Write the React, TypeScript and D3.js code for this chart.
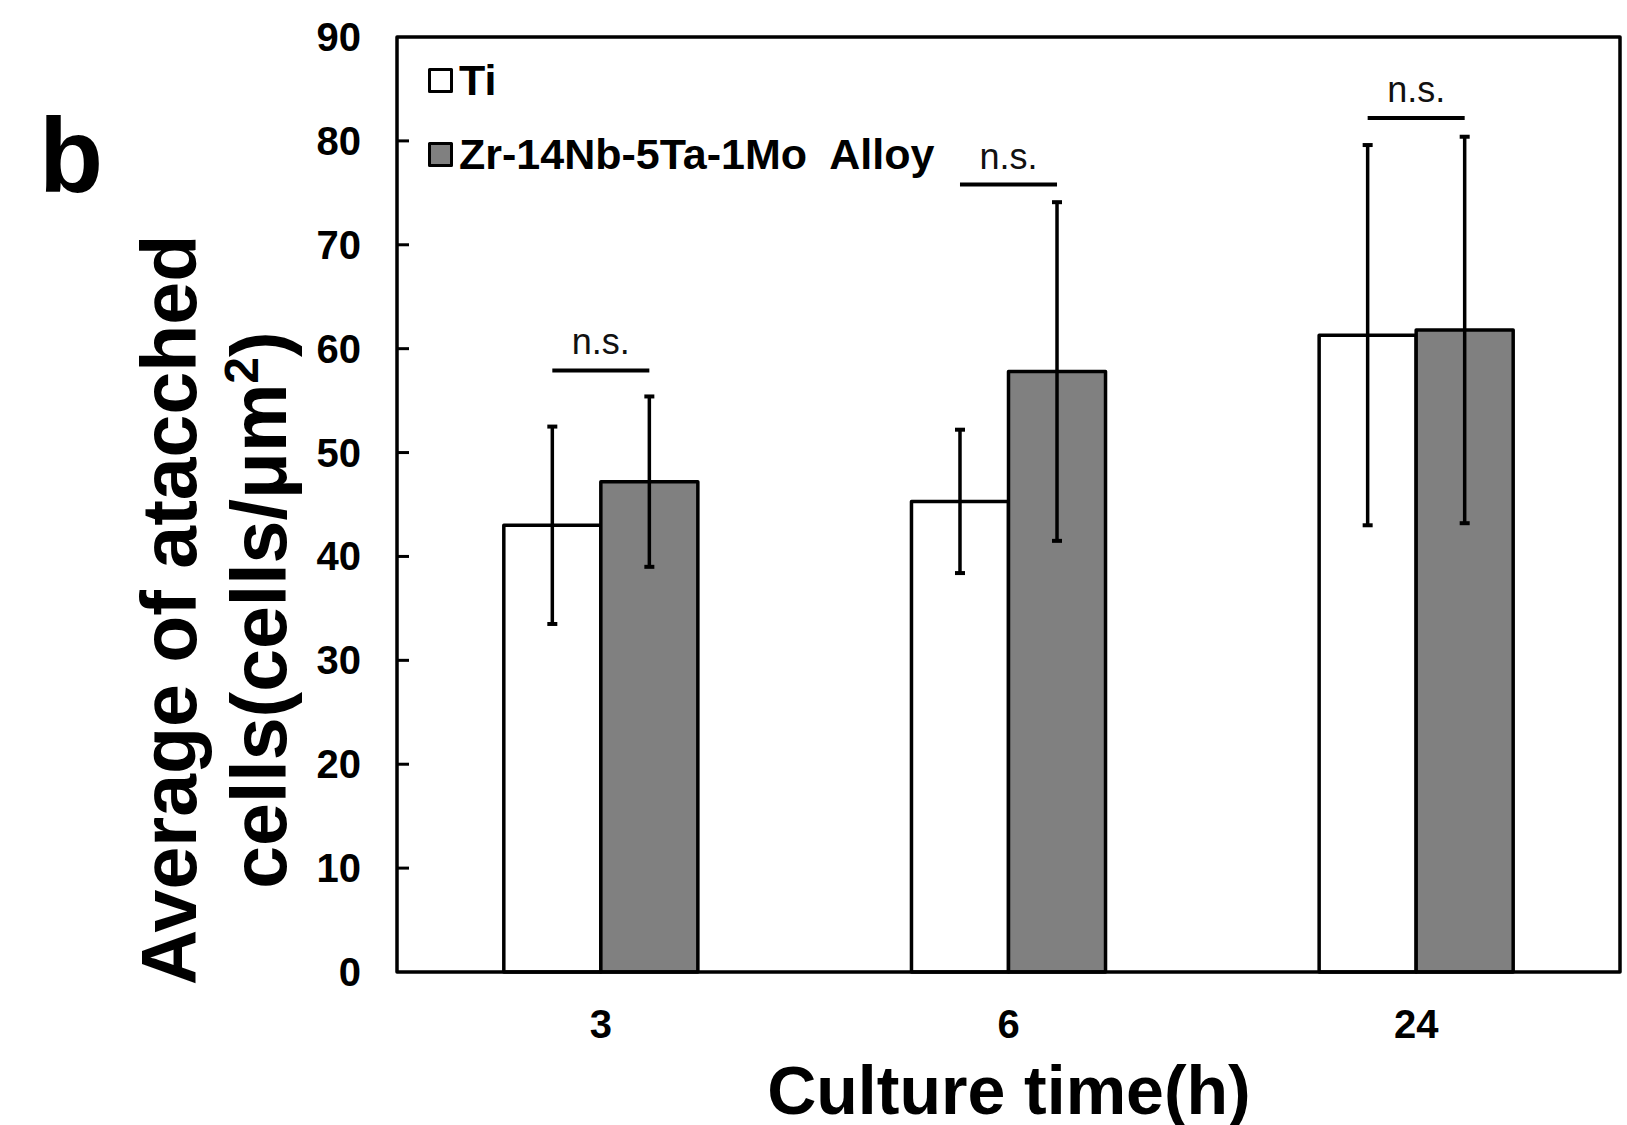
import React, { useEffect, useRef } from "react";
import * as d3 from "d3";

const categories = ["3", "6", "24"];
const seriesNames = ["Ti", "Zr-14Nb-5Ta-1Mo  Alloy"];
const seriesFills = ["#ffffff", "#808080"];
const tiMeans = [43.0, 45.3, 61.3];
const tiErrors = [9.5, 6.9, 18.3];
const alloyMeans = [47.2, 57.8, 61.8];
const alloyErrors = [8.2, 16.3, 18.6];
const sigLabels = ["n.s.", "n.s.", "n.s."];
const sigLevels = [57.9, 75.8, 82.2];
const yTicks = [0, 10, 20, 30, 40, 50, 60, 70, 80, 90];

const FONT = "'Liberation Sans', Arial, Helvetica, sans-serif";

const App = () => {
  const chartRef = useRef<SVGSVGElement | null>(null);

  useEffect(() => {
    const svg = d3.select(chartRef.current);
    svg.selectAll("*").remove(); // Clear previous draw

    const width = 1627;
    const height = 1125;
    const left = 397;
    const right = 1620;
    const top = 37;
    const bottom = 972;

    svg.attr("width", width).attr("height", height);

    const rows = categories.map((c, i) => ({
      cat: c,
      values: [
        { key: seriesNames[0], mean: tiMeans[i], err: tiErrors[i], fill: seriesFills[0] },
        { key: seriesNames[1], mean: alloyMeans[i], err: alloyErrors[i], fill: seriesFills[1] },
      ],
    }));

    const x0 = d3
      .scaleBand()
      .domain(categories)
      .range([left, right])
      .paddingInner(0.524)
      .paddingOuter(0.262);

    const x1 = d3
      .scaleBand()
      .domain(seriesNames)
      .range([0, x0.bandwidth()])
      .padding(0);

    const y = d3.scaleLinear().domain([0, 90]).range([bottom, top]);

    // bars
    const groups = svg
      .selectAll(".group")
      .data(rows)
      .enter()
      .append("g")
      .attr("class", "group")
      .attr("transform", (d) => `translate(${x0(d.cat)},0)`);

    groups
      .selectAll("rect")
      .data((d) => d.values)
      .enter()
      .append("rect")
      .attr("x", (d) => x1(d.key)!)
      .attr("y", (d) => y(d.mean))
      .attr("width", x1.bandwidth())
      .attr("height", (d) => y(0) - y(d.mean))
      .attr("fill", (d) => d.fill)
      .attr("stroke", "#000")
      .attr("stroke-width", 3.5)
      .attr("stroke-linejoin", "round");

    // error bars
    const capHalf = 5;
    groups.each(function (d) {
      const g = d3.select(this);
      d.values.forEach((v) => {
        const cx = x1(v.key)! + x1.bandwidth() / 2;
        g.append("line")
          .attr("x1", cx)
          .attr("x2", cx)
          .attr("y1", y(v.mean - v.err))
          .attr("y2", y(v.mean + v.err))
          .attr("stroke", "#000")
          .attr("stroke-width", 3.5);
        [v.mean - v.err, v.mean + v.err].forEach((yy) => {
          g.append("line")
            .attr("x1", cx - capHalf)
            .attr("x2", cx + capHalf)
            .attr("y1", y(yy))
            .attr("y2", y(yy))
            .attr("stroke", "#000")
            .attr("stroke-width", 4);
        });
      });
    });

    // significance marks
    rows.forEach((d, i) => {
      const gx = x0(d.cat)!;
      const xa = gx + x1(seriesNames[0])! + x1.bandwidth() / 2;
      const xb = gx + x1(seriesNames[1])! + x1.bandwidth() / 2;
      svg
        .append("line")
        .attr("x1", xa)
        .attr("x2", xb)
        .attr("y1", y(sigLevels[i]))
        .attr("y2", y(sigLevels[i]))
        .attr("stroke", "#000")
        .attr("stroke-width", 4);
      svg
        .append("text")
        .attr("x", gx + x0.bandwidth() / 2)
        .attr("y", y(sigLevels[i]) - 16)
        .attr("text-anchor", "middle")
        .style("font-family", FONT)
        .style("font-size", "36px")
        .style("fill", "#111")
        .text(sigLabels[i]);
    });

    // frame
    svg
      .append("rect")
      .attr("x", left)
      .attr("y", top)
      .attr("width", right - left)
      .attr("height", bottom - top)
      .attr("fill", "none")
      .attr("stroke", "#000")
      .attr("stroke-width", 3.5)
      .attr("stroke-linejoin", "round");

    // y ticks (inward) + labels
    svg
      .selectAll(".ytick")
      .data(yTicks.filter((t) => t > 0 && t < 90))
      .enter()
      .append("line")
      .attr("class", "ytick")
      .attr("x1", left)
      .attr("x2", left + 12)
      .attr("y1", (d) => y(d))
      .attr("y2", (d) => y(d))
      .attr("stroke", "#000")
      .attr("stroke-width", 3);

    svg
      .selectAll(".ylabel")
      .data(yTicks)
      .enter()
      .append("text")
      .attr("class", "ylabel")
      .attr("x", 361)
      .attr("y", (d) => y(d) + 14)
      .attr("text-anchor", "end")
      .style("font-family", FONT)
      .style("font-size", "40px")
      .style("font-weight", "700")
      .text((d) => d);

    // x labels
    svg
      .selectAll(".xlabel")
      .data(categories)
      .enter()
      .append("text")
      .attr("class", "xlabel")
      .attr("x", (d) => x0(d)! + x0.bandwidth() / 2)
      .attr("y", 1038)
      .attr("text-anchor", "middle")
      .style("font-family", FONT)
      .style("font-size", "40px")
      .style("font-weight", "700")
      .text((d) => d);

    // legend
    seriesNames.forEach((name, i) => {
      svg
        .append("rect")
        .attr("x", 429.5)
        .attr("y", 69.5 + i * 74)
        .attr("width", 22)
        .attr("height", 22)
        .attr("fill", seriesFills[i])
        .attr("stroke", "#000")
        .attr("stroke-width", 3)
        .attr("stroke-linejoin", "round");
      svg
        .append("text")
        .attr("x", 459)
        .attr("y", 95 + i * 74)
        .style("font-family", FONT)
        .style("font-size", "43px")
        .style("font-weight", "700")
        .style("white-space", "pre")
        .text(name);
    });

    // axis titles
    svg
      .append("text")
      .attr("x", 1009)
      .attr("y", 1114)
      .attr("text-anchor", "middle")
      .style("font-family", FONT)
      .style("font-size", "68px")
      .style("font-weight", "700")
      .text("Culture time(h)");

    svg
      .append("text")
      .attr("transform", "translate(196,610) rotate(-90)")
      .attr("text-anchor", "middle")
      .style("font-family", FONT)
      .style("font-size", "77px")
      .style("font-weight", "700")
      .text("Average of atacched");

    const t2 = svg
      .append("text")
      .attr("transform", "translate(286,610) rotate(-90)")
      .attr("text-anchor", "middle")
      .style("font-family", FONT)
      .style("font-size", "77px")
      .style("font-weight", "700");
    t2.append("tspan").text("cells(cells/μm");
    t2.append("tspan").attr("dy", -28).style("font-size", "48px").text("2");
    t2.append("tspan").attr("dy", 28).text(")");

    // panel letter
    svg
      .append("text")
      .attr("x", 39)
      .attr("y", 192)
      .style("font-family", FONT)
      .style("font-size", "105px")
      .style("font-weight", "700")
      .text("b");
  }, []);

  return (
    <svg
      ref={chartRef}
      style={{ position: "absolute", left: 0, top: 0, background: "#fff" }}
    ></svg>
  );
};

export default App;
